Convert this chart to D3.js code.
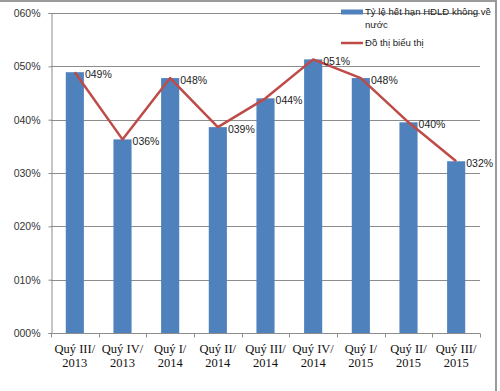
<!DOCTYPE html>
<html>
<head>
<meta charset="utf-8">
<script src="https://cdn.jsdelivr.net/npm/d3@7"></script>
<style>
  html, body { margin: 0; padding: 0; background: #fff; }
  svg { display: block; }
  .sans { font-family: "Liberation Sans", Arial, sans-serif; }
  .serif { font-family: "Liberation Serif", "Times New Roman", serif; }
</style>
</head>
<body>
<script>
// quarters, two lines each
const quarters = [
  ["Quý III/", "2013"], ["Quý IV/", "2013"], ["Quý I/", "2014"],
  ["Quý II/", "2014"], ["Quý III/", "2014"], ["Quý IV/", "2014"],
  ["Quý I/", "2015"], ["Quý II/", "2015"], ["Quý III/", "2015"]
];
// rate (%)
const rates = [48.9, 36.3, 47.8, 38.6, 44.0, 51.3, 47.8, 39.5, 32.2];
const yTicks = [0, 10, 20, 30, 40, 50, 60];
const barName = "Tỷ lệ hết hạn HĐLĐ không về";
const barName2 = "nước";
const lineName = "Đồ thị biểu thị";

const W = 500, H = 391;
const margin = {top: 13, right: 20, bottom: 58, left: 51};

const pct = v => String(Math.round(v)).padStart(3, "0") + "%";

const svg = d3.select("body").append("svg")
  .attr("width", W)
  .attr("height", H);

svg.append("rect").attr("width", W).attr("height", H).attr("fill", "#fff");

// frame (top + right edge of the screenshot)
svg.append("line").attr("x1", 0).attr("x2", 497).attr("y1", 1).attr("y2", 1)
  .attr("stroke", "#9a9a9a").attr("stroke-width", 2);
svg.append("line").attr("x1", 496).attr("x2", 496).attr("y1", 0).attr("y2", H)
  .attr("stroke", "#9a9a9a").attr("stroke-width", 2);

const x = d3.scaleBand()
  .domain(d3.range(quarters.length))
  .range([margin.left, W - margin.right])
  .paddingInner(0.62)
  .paddingOuter(0.31);

const y = d3.scaleLinear()
  .domain([0, 60])
  .range([H - margin.bottom, margin.top]);

// gridlines
svg.append("g")
  .selectAll("line")
  .data(yTicks.filter(t => t > 0))
  .join("line")
  .attr("x1", margin.left)
  .attr("x2", W - margin.right)
  .attr("y1", d => Math.round(y(d)) + 0.5)
  .attr("y2", d => Math.round(y(d)) + 0.5)
  .attr("stroke", "#8c8c8c");

// y axis
const yAxis = svg.append("g")
  .attr("class", "sans")
  .attr("transform", "translate(" + (margin.left + 0.5) + ",0)")
  .call(d3.axisLeft(y).tickValues(yTicks).tickSize(3).tickPadding(8).tickFormat(pct));
yAxis.selectAll("path, line").attr("stroke", "#8c8c8c");
yAxis.selectAll("text").attr("font-size", 10.5).attr("fill", "#333");

// bars
svg.append("g")
  .selectAll("rect")
  .data(rates)
  .join("rect")
  .attr("x", (d, i) => x(i))
  .attr("y", d => y(d))
  .attr("width", x.bandwidth())
  .attr("height", d => y(0) - y(d))
  .attr("fill", "#4F81BD");

// x axis
const xAxis = svg.append("g")
  .attr("transform", "translate(0," + (Math.round(y(0)) + 0.5) + ")");
xAxis.append("line")
  .attr("x1", margin.left).attr("x2", W - margin.right)
  .attr("stroke", "#8c8c8c");
xAxis.selectAll("line.tick")
  .data(d3.range(quarters.length + 1))
  .join("line")
  .attr("class", "tick")
  .attr("x1", i => Math.round(margin.left + i * x.step()) + 0.5)
  .attr("x2", i => Math.round(margin.left + i * x.step()) + 0.5)
  .attr("y1", 0).attr("y2", 4)
  .attr("stroke", "#8c8c8c");

const xLabel = xAxis.selectAll("text")
  .data(quarters)
  .join("text")
  .attr("class", "serif")
  .attr("text-anchor", "middle")
  .attr("font-size", 12.5)
  .attr("fill", "#111");
xLabel.append("tspan")
  .attr("x", (d, i) => x(i) + x.bandwidth() / 2)
  .attr("y", 19)
  .text(d => d[0]);
xLabel.append("tspan")
  .attr("x", (d, i) => x(i) + x.bandwidth() / 2)
  .attr("y", 33)
  .text(d => d[1]);

// line
const line = d3.line()
  .x((d, i) => x(i) + x.bandwidth() / 2)
  .y(d => y(d));

svg.append("path")
  .datum(rates)
  .attr("d", line)
  .attr("fill", "none")
  .attr("stroke", "#BE4B48")
  .attr("stroke-width", 2.5)
  .attr("stroke-linejoin", "round");

// data labels
svg.append("g")
  .attr("class", "sans")
  .selectAll("text")
  .data(rates)
  .join("text")
  .attr("x", (d, i) => x(i) + x.bandwidth() + 1)
  .attr("y", d => y(d) + 2)
  .attr("dy", "0.35em")
  .attr("font-size", 10.5)
  .attr("fill", "#222")
  .text(pct);

// legend
const legend = svg.append("g").attr("class", "sans");
legend.append("rect")
  .attr("x", 341).attr("y", 9.5)
  .attr("width", 22).attr("height", 5)
  .attr("fill", "#4F81BD");
legend.append("text")
  .attr("x", 365).attr("y", 12).attr("dy", "0.35em")
  .attr("font-size", 9.6).attr("fill", "#222")
  .text(barName);
legend.append("text")
  .attr("x", 365).attr("y", 25).attr("dy", "0.35em")
  .attr("font-size", 9.6).attr("fill", "#222")
  .text(barName2);
legend.append("line")
  .attr("x1", 341).attr("x2", 363)
  .attr("y1", 43).attr("y2", 43)
  .attr("stroke", "#BE4B48").attr("stroke-width", 2.5);
legend.append("text")
  .attr("x", 365).attr("y", 43).attr("dy", "0.35em")
  .attr("font-size", 9.6).attr("fill", "#222")
  .text(lineName);
</script>
</body>
</html>
